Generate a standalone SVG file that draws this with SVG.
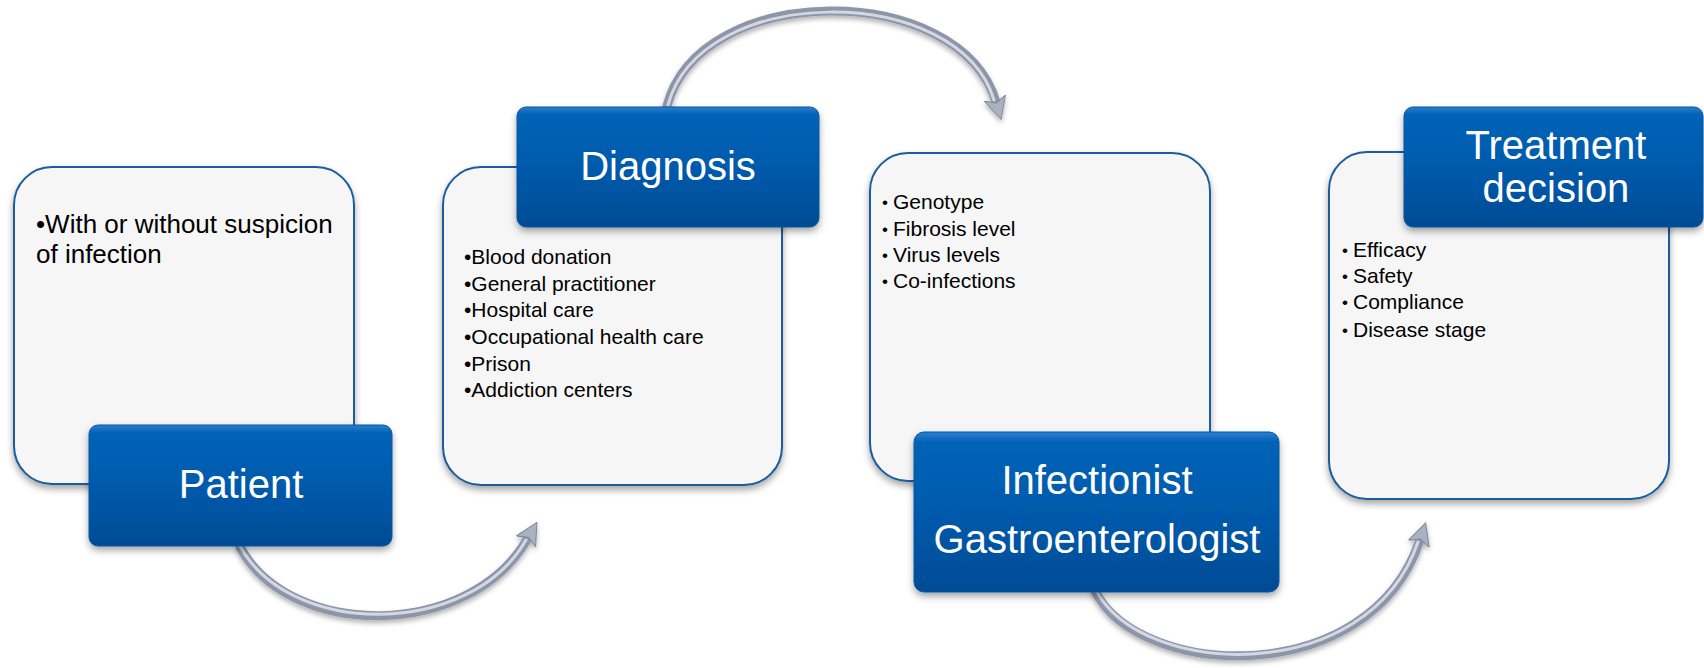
<svg xmlns="http://www.w3.org/2000/svg" width="1704" height="668" viewBox="0 0 1704 668">
<defs>
  <linearGradient id="blueGrad" x1="0" y1="0" x2="0" y2="1">
    <stop offset="0" stop-color="#2a7fd0"/>
    <stop offset="0.06" stop-color="#0563b6"/>
    <stop offset="0.5" stop-color="#005aac"/>
    <stop offset="1" stop-color="#004b95"/>
  </linearGradient>
  <filter id="shadow" x="-10%" y="-10%" width="120%" height="130%">
    <feDropShadow dx="0" dy="4" stdDeviation="3.5" flood-color="#000" flood-opacity="0.35"/>
  </filter>
  <filter id="arrowShadow" x="-10%" y="-20%" width="120%" height="140%">
    <feDropShadow dx="0" dy="3" stdDeviation="2.5" flood-color="#000" flood-opacity="0.3"/>
  </filter>
  <marker id="head" markerUnits="userSpaceOnUse" markerWidth="28" markerHeight="28" refX="4" refY="11" orient="auto" viewBox="0 0 28 22">
    <path d="M0,0 L22,11 L0,22 L5,11 Z" fill="#aab1c1" stroke="#7f889c" stroke-width="1"/>
  </marker>
  <style>
    .card { fill: #f6f6f6; stroke: #1b5c9e; stroke-width: 2; }
    .title { fill: url(#blueGrad); stroke: #0b56a0; stroke-width: 1; }
    .ttl { font-family: "Liberation Sans", Arial, sans-serif; font-size: 40px; fill: #ffffff; text-anchor: middle; }
    .big { font-family: "Liberation Sans", Arial, sans-serif; font-size: 26px; fill: #000000; }
    .lst { font-family: "Liberation Sans", Arial, sans-serif; font-size: 21px; fill: #000000; }
    .bul { font-family: "Liberation Sans", Arial, sans-serif; font-size: 17px; fill: #000000; }
    .tube { fill: none; stroke: #8d95a8; stroke-width: 9; stroke-linecap: round; }
    .tubeHi { fill: none; stroke: #d3d8e2; stroke-width: 3; stroke-linecap: round; }
  </style>
</defs>
<rect width="1704" height="668" fill="#ffffff"/>

<g id="connectors">
  <g filter="url(#arrowShadow)">
    <path class="tube" d="M240,547 C290,640 470,640 528,538" marker-end="url(#head)"/>
    <path class="tubeHi" d="M240,546 C290,638 470,638 526,540"/>
  </g>
  <g filter="url(#arrowShadow)">
    <path class="tube" d="M667,106 C700,-20 960,-20 996,102" marker-end="url(#head)"/>
    <path class="tubeHi" d="M668,105 C701,-18 958,-18 994,100"/>
  </g>
  <g filter="url(#arrowShadow)">
    <path class="tube" d="M1095,591 C1140,680 1370,690 1420,540" marker-end="url(#head)"/>
    <path class="tubeHi" d="M1096,590 C1141,678 1368,688 1418,542"/>
  </g>
</g>

<g id="node-patient">
  <rect class="card" x="14" y="167" width="340" height="317" rx="38" filter="url(#shadow)"/>
  <text class="big" x="36" y="233">•With or without suspicion</text>
  <text class="big" x="36" y="263">of infection</text>
  <rect class="title" x="89" y="425" width="303" height="121" rx="9" filter="url(#shadow)"/>
  <text class="ttl" x="241" y="498">Patient</text>
</g>

<g id="node-diagnosis">
  <rect class="card" x="443" y="167" width="339" height="318" rx="38" filter="url(#shadow)"/>
  <text class="lst" x="464" y="264">•Blood donation</text>
  <text class="lst" x="464" y="291">•General practitioner</text>
  <text class="lst" x="464" y="317">•Hospital care</text>
  <text class="lst" x="464" y="344">•Occupational health care</text>
  <text class="lst" x="464" y="371">•Prison</text>
  <text class="lst" x="464" y="397">•Addiction centers</text>
  <rect class="title" x="517" y="107" width="302" height="120" rx="9" filter="url(#shadow)"/>
  <text class="ttl" x="668" y="180">Diagnosis</text>
</g>

<g id="node-specialist">
  <rect class="card" x="870" y="153" width="340" height="328" rx="38" filter="url(#shadow)"/>
  <text class="bul" x="882" y="208">•</text><text class="lst" x="893" y="209">Genotype</text>
  <text class="bul" x="882" y="235">•</text><text class="lst" x="893" y="236">Fibrosis level</text>
  <text class="bul" x="882" y="261">•</text><text class="lst" x="893" y="262">Virus levels</text>
  <text class="bul" x="882" y="287">•</text><text class="lst" x="893" y="288">Co-infections</text>
  <rect class="title" x="914" y="432" width="365" height="160" rx="10" filter="url(#shadow)"/>
  <text class="ttl" x="1097" y="494">Infectionist</text>
  <text class="ttl" x="1097" y="553">Gastroenterologist</text>
</g>

<g id="node-treatment">
  <rect class="card" x="1329" y="152" width="340" height="347" rx="38" filter="url(#shadow)"/>
  <text class="bul" x="1342" y="256">•</text><text class="lst" x="1353" y="257">Efficacy</text>
  <text class="bul" x="1342" y="282">•</text><text class="lst" x="1353" y="283">Safety</text>
  <text class="bul" x="1342" y="308">•</text><text class="lst" x="1353" y="309">Compliance</text>
  <text class="bul" x="1342" y="336">•</text><text class="lst" x="1353" y="337">Disease stage</text>
  <rect class="title" x="1404" y="107" width="299" height="120" rx="9" filter="url(#shadow)"/>
  <text class="ttl" x="1556" y="159">Treatment</text>
  <text class="ttl" x="1556" y="202">decision</text>
</g>
</svg>
